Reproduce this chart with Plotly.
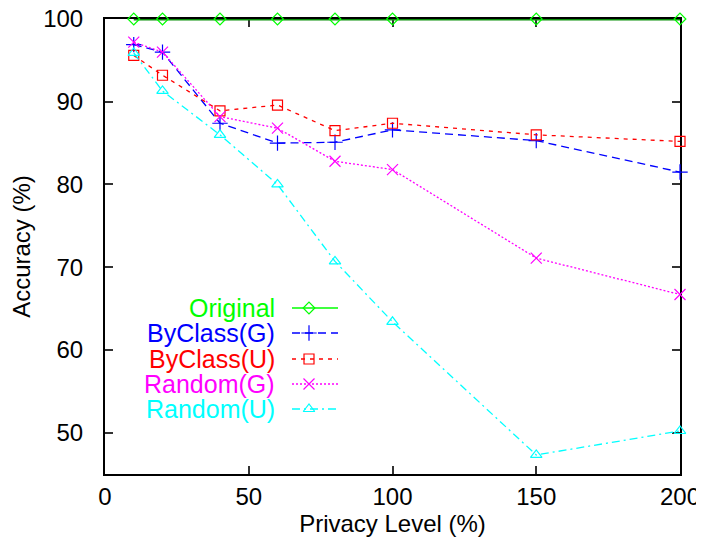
import plotly.graph_objects as go

# ---- data ----
privacy = [10, 20, 40, 60, 80, 100, 150, 200]
original = [100, 100, 100, 100, 100, 100, 100, 100]
byclass_g = [96.9, 96.0, 87.4, 85.0, 85.1, 86.6, 85.3, 81.5]
byclass_u = [95.6, 93.2, 88.9, 89.6, 86.5, 87.4, 86.0, 85.2]
random_g = [97.2, 96.0, 88.2, 86.8, 82.8, 81.8, 71.1, 66.7]
random_u = [95.9, 91.3, 86.0, 80.0, 70.7, 63.4, 47.3, 50.2]

series_names = ["Original", "ByClass(G)", "ByClass(U)", "Random(G)", "Random(U)"]
series_vals = [original, byclass_g, byclass_u, random_g, random_u]

# ---- styles ----
colors = ["#00ff00", "#0000ff", "#ff0000", "#ff00ff", "#00ffff"]
line_colors = ["#0a8f0a", "#0000ff", "#ff0000", "#ff00ff", "#00ffff"]
dashes = ["solid", "8px,5px", "4px,5px", "2px,2px", "8px,4px,2px,4px"]
symbols = ["diamond-open", "cross-thin-open", "square-open", "x-thin-open", "triangle-up-open"]
msizes = [9, 11, 10, 11, 10]

FONT = "Liberation Sans, Arial, Helvetica, sans-serif"

# The page body has an 8px default margin, so the figure is placed at (8, 8)
OFF = 8
W, H = 704 - OFF, 543 - OFF
PLOT_L, PLOT_R, PLOT_T, PLOT_B = 105 - OFF, 680 - OFF, 19 - OFF, 474 - OFF

fig = go.Figure()

for name, vals, c, lc, d, s, ms in zip(series_names, series_vals, colors, line_colors, dashes, symbols, msizes):
    fig.add_trace(go.Scatter(
        x=privacy, y=vals, mode="lines+markers", name=name,
        line=dict(color=lc if name == "Original" else c, width=3 if name == "Original" else 1.3, dash=d),
        marker=dict(symbol=s, size=ms, color=c, line=dict(color=c, width=1.2)),
        showlegend=False, cliponaxis=False,
    ))

# ---- manual gnuplot-style legend (overlay axes in pixel units) ----
row_y = [308, 333, 359, 384, 409]
sample_x0, sample_x1, sample_mx, text_x = 292, 338, 309, 277

for name, c, d, s, ms, ry in zip(series_names, colors, dashes, symbols, msizes, row_y):
    fig.add_trace(go.Scatter(
        x=[sample_x0, sample_x1], y=[ry, ry], mode="lines",
        line=dict(color=c, width=1.3, dash=d),
        xaxis="x2", yaxis="y2", showlegend=False, hoverinfo="skip",
    ))
    fig.add_trace(go.Scatter(
        x=[sample_mx], y=[ry], mode="markers",
        marker=dict(symbol=s, size=ms, color=c, line=dict(color=c, width=1.2)),
        xaxis="x2", yaxis="y2", showlegend=False, hoverinfo="skip",
    ))
    fig.add_annotation(
        x=text_x, y=ry, xref="x2", yref="y2", text=name, showarrow=False,
        xanchor="right", yanchor="middle", font=dict(family=FONT, size=25, color=c),
    )

axis_common = dict(
    showgrid=False, zeroline=False, showline=True, linecolor="black", linewidth=2,
    mirror="allticks", ticks="inside", ticklen=8, tickwidth=1.5, tickcolor="#333333",
    tickfont=dict(family=FONT, size=24, color="black"), automargin=False,
    layer="below traces", ticklabeloverflow="allow",
)

fig.update_layout(
    width=W, height=H,
    margin=dict(l=PLOT_L, r=W - PLOT_R, t=PLOT_T, b=H - PLOT_B, autoexpand=False),
    paper_bgcolor="white", plot_bgcolor="white",
    font=dict(family=FONT, size=24, color="black"),
    xaxis=dict(range=[0, 200], dtick=50, tick0=0,
               title=dict(text="Privacy Level (%)", font=dict(family=FONT, size=24), standoff=0),
               ticklabelstandoff=0, **axis_common),
    yaxis=dict(range=[45, 100], tickvals=[50, 60, 70, 80, 90, 100],
               title=dict(text="Accuracy (%)", font=dict(family=FONT, size=24), standoff=17),
               ticklabelstandoff=15, **axis_common),
    xaxis2=dict(overlaying="x", anchor="y2", range=[105, 680], visible=False, fixedrange=True),
    yaxis2=dict(overlaying="y", anchor="x2", range=[474, 19], visible=False, fixedrange=True),
    showlegend=False,
)

fig.write_html("out.html")
